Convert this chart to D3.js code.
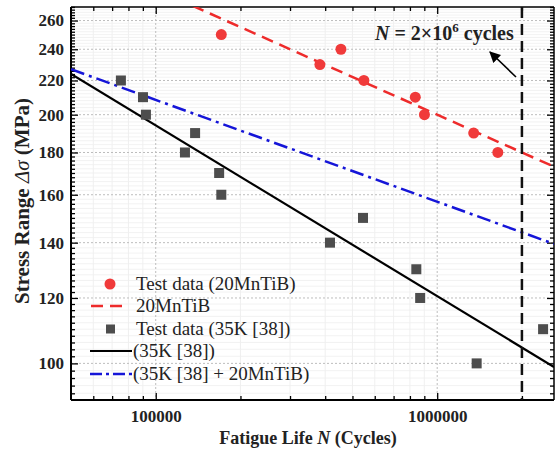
<!DOCTYPE html>
<html><head><meta charset="utf-8">
<script src="https://cdn.jsdelivr.net/npm/d3@7"></script>
<style>body{margin:0;background:#fff}svg{display:block}</style>
</head><body>
<svg id="c" width="557" height="454"></svg>
<script>
// ---- data ----
const redN = [171000, 383000, 455000, 549000, 836000, 901000, 1348000, 1642000];
const redS = [250, 230, 240, 220, 210, 200, 190, 180];
const grayN = [75200, 90100, 92300, 127000, 138000, 168000, 171000, 416000, 545000, 843000, 870000, 1381000, 2378000];
const grayS = [220, 210, 200, 180, 190, 170, 160, 140, 150, 130, 120, 100, 110];
const fitN = [50000, 2600000];
const redFitS = [315, 173];
const blackFitS = [224, 99];
const blueFitS = [227, 139.5];
const refN = 2000000;
const xTickVals = [100000, 1000000];
const xTickLabels = ["100000", "1000000"];
const yTickVals = [100, 120, 140, 160, 180, 200, 220, 240, 260];
const legendLabels = ["Test data (20MnTiB)", "20MnTiB", "Test data (35K [38])", "(35K [38])", "(35K [38] + 20MnTiB)"];

const W = 557, H = 454;
const m = {l: 71, r: 554, t: 7, b: 400};
const serif = "'Liberation Serif','Times New Roman',Times,serif";
const svg = d3.select("#c");
const x = d3.scaleLog().domain([50000, 2600000]).range([m.l, m.r]);
const y = d3.scaleLog().domain([90.3, 270]).range([m.b, m.t]);

svg.append("defs").append("clipPath").attr("id", "clip")
  .append("rect").attr("x", m.l).attr("y", m.t).attr("width", m.r - m.l).attr("height", m.b - m.t);

// minor ticks values
const xMinor = [];
[10000, 100000, 1000000].forEach(d => { for (let k = 2; k <= 9; k++) { const v = d * k; if (v > 50000 && v < 2600000) xMinor.push(v); } });
const yMinor = [];
for (let v = 92; v <= 270; v += 2) if (v % 20 !== 0) yMinor.push(v);

const grid = svg.append("g");
grid.selectAll(".xmg").data(xMinor).join("line").attr("x1", d => x(d)).attr("x2", d => x(d)).attr("y1", m.t).attr("y2", m.b).attr("stroke", "#ececec").attr("stroke-width", 0.8);
grid.selectAll(".ymg").data(yMinor).join("line").attr("x1", m.l).attr("x2", m.r).attr("y1", d => y(d)).attr("y2", d => y(d)).attr("stroke", "#efefef").attr("stroke-width", 0.8);
grid.selectAll(".xg").data(xTickVals).join("line").attr("x1", d => x(d)).attr("x2", d => x(d)).attr("y1", m.t).attr("y2", m.b).attr("stroke", "#bdbdbd").attr("stroke-width", 1).attr("stroke-dasharray", "2,2");
grid.selectAll(".yg").data(yTickVals).join("line").attr("x1", m.l).attr("x2", m.r).attr("y1", d => y(d)).attr("y2", d => y(d)).attr("stroke", "#bdbdbd").attr("stroke-width", 1).attr("stroke-dasharray", "2,2");

// axes with inward ticks
function ax(gen, tr, vals, size, fmt) {
  const g = svg.append("g").attr("transform", tr)
    .call(gen.tickValues(vals).tickSize(size).tickFormat(fmt));
  g.select(".domain").remove();
  g.selectAll(".tick line").attr("stroke", "#000").attr("stroke-width", 1.3);
  return g;
}
const none = () => "";
// bottom
const gb = ax(d3.axisBottom(x), `translate(0,${m.b})`, xTickVals, -7, (d, i) => xTickLabels[i]);
gb.selectAll(".tick text").attr("y", 10).attr("font-family", serif).attr("font-weight", "bold").attr("font-size", 17).attr("fill", "#222");
ax(d3.axisBottom(x), `translate(0,${m.b})`, xMinor, -4, none);
// top
ax(d3.axisTop(x), `translate(0,${m.t})`, xTickVals, -7, none);
ax(d3.axisTop(x), `translate(0,${m.t})`, xMinor, -4, none);
// left
const gl = ax(d3.axisLeft(y), `translate(${m.l},0)`, yTickVals, -7, d3.format("d"));
gl.selectAll(".tick text").attr("x", -7).attr("font-family", serif).attr("font-weight", "bold").attr("font-size", 17).attr("fill", "#222");
ax(d3.axisLeft(y), `translate(${m.l},0)`, yMinor, -4, none);
// right
ax(d3.axisRight(y), `translate(${m.r},0)`, yTickVals, -7, none);
ax(d3.axisRight(y), `translate(${m.r},0)`, yMinor, -4, none);

// frame
svg.append("line").attr("x1", m.l).attr("x2", m.r).attr("y1", m.b).attr("y2", m.b).attr("stroke", "#000").attr("stroke-width", 2);
svg.append("line").attr("x1", m.l).attr("x2", m.l).attr("y1", m.t).attr("y2", m.b).attr("stroke", "#000").attr("stroke-width", 2);
svg.append("line").attr("x1", m.l).attr("x2", m.r).attr("y1", m.t).attr("y2", m.t).attr("stroke", "#000").attr("stroke-width", 1.5);
svg.append("line").attr("x1", m.r).attr("x2", m.r).attr("y1", m.t).attr("y2", m.b).attr("stroke", "#000").attr("stroke-width", 1.5);

// plot content
const plot = svg.append("g").attr("clip-path", "url(#clip)");
const line = d3.line().x(d => x(d[0])).y(d => y(d[1]));
plot.append("path").datum(fitN.map((n, i) => [n, redFitS[i]])).attr("d", line).attr("fill", "none").attr("stroke", "#ee2b2b").attr("stroke-width", 2.5).attr("stroke-dasharray", "12,7");
plot.append("path").datum(fitN.map((n, i) => [n, blackFitS[i]])).attr("d", line).attr("fill", "none").attr("stroke", "#000").attr("stroke-width", 2.2);
plot.append("path").datum(fitN.map((n, i) => [n, blueFitS[i]])).attr("d", line).attr("fill", "none").attr("stroke", "#1515d8").attr("stroke-width", 2.5).attr("stroke-dasharray", "14,5,3,5");
plot.append("line").attr("x1", x(refN)).attr("x2", x(refN)).attr("y1", m.t).attr("y2", m.b).attr("stroke", "#111").attr("stroke-width", 2.5).attr("stroke-dasharray", "11,6");

plot.selectAll(".sq").data(grayN).join("rect")
  .attr("x", (d) => x(d) - 5).attr("y", (d, i) => y(grayS[i]) - 5).attr("width", 10).attr("height", 10).attr("fill", "#4d4d4d");
plot.selectAll(".ci").data(redN).join("circle")
  .attr("cx", d => x(d)).attr("cy", (d, i) => y(redS[i])).attr("r", 5.5).attr("fill", "#f03a3a");

// annotation
const ann = svg.append("text").attr("x", 375).attr("y", 40).attr("font-family", serif).attr("font-weight", "bold").attr("font-size", 20).attr("fill", "#222");
ann.append("tspan").attr("font-style", "italic").text("N");
ann.append("tspan").text(" = 2×10");
ann.append("tspan").attr("font-size", 13).attr("dy", -8).text("6");
ann.append("tspan").attr("dy", 8).text(" cycles");
svg.append("defs").append("marker").attr("id", "ah").attr("viewBox", "0 0 10 10").attr("refX", 9).attr("refY", 5)
  .attr("markerWidth", 7).attr("markerHeight", 7).attr("orient", "auto")
  .append("path").attr("d", "M0,0 L10,5 L0,10 z").attr("fill", "#000");
svg.append("line").attr("x1", 516).attr("y1", 77).attr("x2", 490).attr("y2", 52).attr("stroke", "#000").attr("stroke-width", 1.6).attr("marker-end", "url(#ah)");

// legend
const lg = svg.append("g");
const rowY = [284, 306, 329, 351, 374];
const tx = 136;
lg.append("circle").attr("cx", 110).attr("cy", rowY[0]).attr("r", 5.5).attr("fill", "#f03a3a");
lg.append("line").attr("x1", 91).attr("x2", 128).attr("y1", rowY[1]).attr("y2", rowY[1]).attr("stroke", "#ee2b2b").attr("stroke-width", 2.5).attr("stroke-dasharray", "12,7");
lg.append("rect").attr("x", 106).attr("y", rowY[2] - 4.5).attr("width", 9).attr("height", 9).attr("fill", "#4d4d4d");
lg.append("line").attr("x1", 90).attr("x2", 132).attr("y1", rowY[3]).attr("y2", rowY[3]).attr("stroke", "#000").attr("stroke-width", 2.2);
lg.append("line").attr("x1", 90).attr("x2", 132).attr("y1", rowY[4]).attr("y2", rowY[4]).attr("stroke", "#1515d8").attr("stroke-width", 2.5).attr("stroke-dasharray", "12,4,3,4");
lg.selectAll(".lt").data(legendLabels).join("text")
  .attr("x", (d, i) => i >= 3 ? 133 : tx).attr("y", (d, i) => rowY[i] + 6)
  .attr("font-family", serif).attr("font-size", 19).attr("fill", "#222").text(d => d);

// axis titles
const xt = svg.append("text").attr("x", 308).attr("y", 444).attr("text-anchor", "middle").attr("font-family", serif).attr("font-weight", "bold").attr("font-size", 18).attr("fill", "#222");
xt.append("tspan").text("Fatigue Life ");
xt.append("tspan").attr("font-style", "italic").text("N");
xt.append("tspan").text(" (Cycles)");
const yt = svg.append("text").attr("transform", `translate(29,201) rotate(-90)`).attr("text-anchor", "middle").attr("font-family", serif).attr("font-weight", "bold").attr("font-size", 21).attr("fill", "#222");
yt.append("tspan").text("Stress Range ");
yt.append("tspan").attr("font-style", "italic").attr("font-weight", "normal").text("Δσ");
yt.append("tspan").text(" (MPa)");
</script>
</body></html>
